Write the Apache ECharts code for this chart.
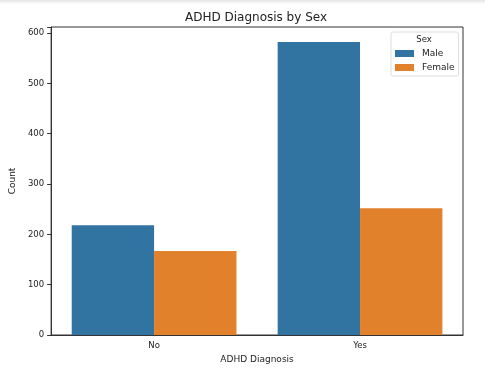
<!DOCTYPE html>
<html>
<head>
<meta charset="utf-8">
<script src="https://cdn.jsdelivr.net/npm/echarts@6/dist/echarts.min.js"></script>
<style>
  html, body { margin: 0; padding: 0; background: #fff; }
  #chart { width: 485px; height: 377px; }
</style>
</head>
<body>
<div id="chart"></div>
<script>
const categories = ['No', 'Yes']
const maleCounts = [218, 582]
const femaleCounts = [167, 252]
const yTicks = [0, 100, 200, 300, 400, 500, 600]

const font = 'DejaVu Sans'
const chart = echarts.init(document.getElementById('chart'))

const options = {
  animation: false,
  textStyle: { fontFamily: font },
  color: ['#3274a1', '#e1812c'],
  title: [
    {
      text: 'ADHD Diagnosis by Sex',
      left: 256,
      top: 12,
      padding: 0,
      textAlign: 'center',
      textStyle: { fontFamily: font, fontSize: 12, fontWeight: 'normal', color: '#222' }
    },
    {
      text: 'Sex',
      left: 424,
      top: 35,
      padding: 0,
      textAlign: 'center',
      textStyle: { fontFamily: font, fontSize: 8.5, fontWeight: 'normal', color: '#222' }
    }
  ],
  legend: {
    orient: 'vertical',
    left: 391,
    top: 32,
    padding: [17, 4, 4, 4],
    itemGap: 5,
    itemWidth: 19,
    itemHeight: 7,
    borderColor: '#ddd',
    borderWidth: 1,
    borderRadius: 2,
    icon: 'rect',
    textStyle: { fontFamily: font, fontSize: 9, color: '#222', padding: [0, 0, 0, 3] },
    data: ['Male', 'Female']
  },
  grid: {
    left: 49,
    right: 22,
    top: 27,
    bottom: 42,
    show: true,
    borderColor: '#333',
    borderWidth: 1,
    containLabel: false
  },
  xAxis: {
    type: 'category',
    data: categories,
    name: 'ADHD Diagnosis',
    nameLocation: 'center',
    nameGap: 20,
    nameTextStyle: { fontFamily: font, fontSize: 9, color: '#222' },
    axisLine: { lineStyle: { color: '#333' } },
    axisTick: { alignWithLabel: true, length: 4, lineStyle: { color: '#333' } },
    axisLabel: { fontFamily: font, fontSize: 8.5, color: '#222', margin: 6 }
  },
  yAxis: {
    type: 'value',
    min: 0,
    max: 612,
    interval: 100,
    name: 'Count',
    nameLocation: 'center',
    nameGap: 30,
    nameTextStyle: { fontFamily: font, fontSize: 9, color: '#222' },
    axisLine: { show: true, lineStyle: { color: '#333' } },
    axisTick: { show: true, length: 4, lineStyle: { color: '#333' } },
    axisLabel: {
      fontFamily: font,
      fontSize: 8.5,
      color: '#222',
      margin: 7,
      formatter: v => (yTicks.includes(v) ? String(v) : '')
    },
    splitLine: { show: false }
  },
  series: [
    {
      name: 'Male',
      type: 'bar',
      data: maleCounts,
      barWidth: '40%',
      barGap: '0%',
      barCategoryGap: '20%'
    },
    {
      name: 'Female',
      type: 'bar',
      data: femaleCounts,
      barWidth: '40%',
      barGap: '0%',
      barCategoryGap: '20%'
    }
  ],
  graphic: [
    {
      type: 'rect',
      left: 0,
      top: 0,
      shape: { width: 485, height: 4 },
      style: {
        fill: new echarts.graphic.LinearGradient(0, 0, 0, 1, [
          { offset: 0, color: '#e4e4e4' },
          { offset: 1, color: '#ffffff' }
        ])
      },
      silent: true
    }
  ]
}

chart.setOption(options)
</script>
</body>
</html>
